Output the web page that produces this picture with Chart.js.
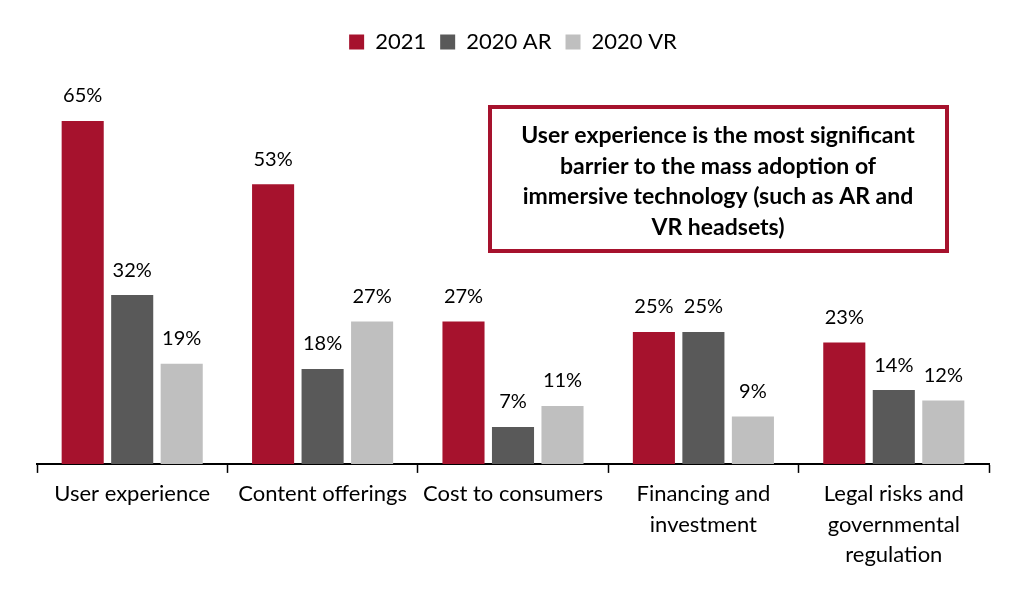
<!DOCTYPE html>
<html>
<head>
<meta charset="utf-8">
<script src="https://cdn.jsdelivr.net/npm/chart.js@4/dist/chart.umd.min.js"></script>
<style>
  body { margin: 0; background: #fff; }
  #wrap { width: 1020px; height: 593px; }
</style>
</head>
<body>
<div id="wrap"><canvas id="barriers-chart"></canvas></div>
<script>
const ctx = document.getElementById('barriers-chart').getContext('2d');
Chart.defaults.font.family = 'Lato, "Open Sans", sans-serif';
Chart.defaults.color = '#000';

let categories = [
    'User experience',
    'Content offerings',
    'Cost to consumers',
    ['Financing and', 'investment'],
    ['Legal risks and', 'governmental', 'regulation']
];
let values2021 = [65, 53, 27, 25, 23];
let values2020AR = [32, 18, 7, 25, 14];
let values2020VR = [19, 27, 11, 9, 12];

let calloutLines = [
    'User experience is the most significant',
    'barrier to the mass adoption of',
    'immersive technology (such as AR and',
    'VR headsets)'
];

// value labels above each bar
const barLabels = {
    id: 'barLabels',
    afterDatasetsDraw(chart) {
        const c = chart.ctx;
        c.save();
        c.font = '20px Lato, "Open Sans", sans-serif';
        c.fillStyle = '#000';
        c.textAlign = 'center';
        c.textBaseline = 'middle';
        chart.data.datasets.forEach((ds, i) => {
            chart.getDatasetMeta(i).data.forEach((bar, j) => {
                c.fillText(ds.data[j] + '%', bar.x, bar.y - 25);
            });
        });
        c.restore();
    }
};

// boxed note in the upper right
const callout = {
    id: 'callout',
    afterDraw(chart) {
        const c = chart.ctx;
        c.save();
        c.strokeStyle = '#A6122D';
        c.lineWidth = 4;
        c.strokeRect(490, 107, 457, 144);
        c.font = 'bold 23px Lato, "Open Sans", sans-serif';
        c.fillStyle = '#000';
        c.textAlign = 'center';
        c.textBaseline = 'middle';
        calloutLines.forEach((line, i) => {
            c.fillText(line, 718, 136 + i * 30.5);
        });
        c.restore();
    }
};

let barriersChart = new Chart(ctx, {
    type: 'bar',
    data: {
        labels: categories,
        datasets: [{
            label: '2021',
            data: values2021,
            backgroundColor: '#A6122D',
            borderWidth: 0
        }, {
            label: '2020 AR',
            data: values2020AR,
            backgroundColor: '#595959',
            borderWidth: 0
        }, {
            label: '2020 VR',
            data: values2020VR,
            backgroundColor: '#BFBFBF',
            borderWidth: 0
        }]
    },
    options: {
        responsive: true,
        maintainAspectRatio: false,
        animation: false,
        categoryPercentage: 0.78,
        barPercentage: 0.85,
        layout: {
            padding: { left: 37, right: 31, top: 17, bottom: 17 }
        },
        scales: {
            x: {
                grid: {
                    offset: true,
                    drawOnChartArea: false,
                    color: '#000',
                    tickLength: 9,
                    tickWidth: 1.5
                },
                border: { color: '#000', width: 2 },
                ticks: {
                    font: { size: 22, lineHeight: 1.38 },
                    color: '#000',
                    maxRotation: 0,
                    autoSkip: false,
                    padding: 6
                }
            },
            y: {
                display: false,
                beginAtZero: true,
                max: 76
            }
        },
        plugins: {
            legend: {
                position: 'top',
                labels: {
                    font: { size: 22 },
                    color: '#000',
                    boxWidth: 15,
                    boxHeight: 15,
                    padding: 14
                }
            },
            tooltip: { enabled: false }
        }
    },
    plugins: [barLabels, callout]
});
</script>
</body>
</html>
